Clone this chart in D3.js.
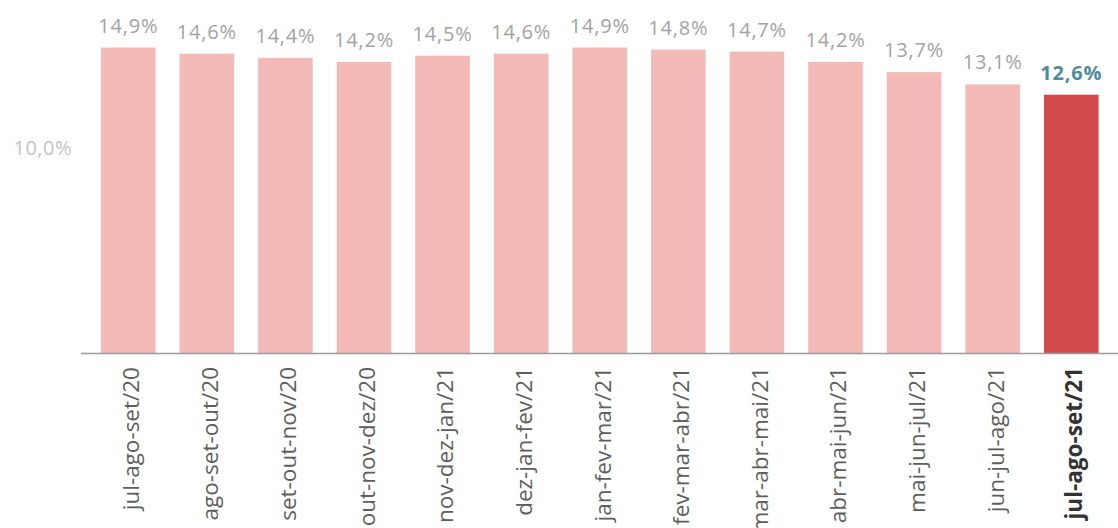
<!DOCTYPE html>
<html>
<head>
<meta charset="utf-8">
<title>Taxa de desocupação</title>
<script src="https://d3js.org/d3.v7.min.js"></script>
<style>
body { margin: 0; padding: 0; background: #fff; }
svg { display: block; font-family: "Open Sans", sans-serif; }
</style>
</head>
<body>
<svg width="1118" height="528"></svg>
<script>
// data
var periods = ['jul-ago-set/20','ago-set-out/20','set-out-nov/20','out-nov-dez/20',
  'nov-dez-jan/21','dez-jan-fev/21','jan-fev-mar/21','fev-mar-abr/21',
  'mar-abr-mai/21','abr-mai-jun/21','mai-jun-jul/21','jun-jul-ago/21','jul-ago-set/21'];
var rates = [14.9, 14.6, 14.4, 14.2, 14.5, 14.6, 14.9, 14.8, 14.7, 14.2, 13.7, 13.1, 12.6];
var yTicks = [10];

var margin = {top: 0, right: 0, bottom: 175, left: 81},
    width = 1118 - margin.left - margin.right,
    height = 528 - margin.top - margin.bottom;

var svg = d3.select("svg")
  .append("g")
  .attr("transform", "translate(" + margin.left + "," + margin.top + ")");

var x = d3.scaleBand()
  .domain(periods)
  .range([-0.5, 1038])
  .paddingInner(0.305)
  .paddingOuter(0.26);

var y = d3.scaleLinear().domain([0, 10]).range([height, height - 205]);

var last = periods.length - 1;
var fmt = function(v) { return v.toFixed(1).replace(".", ",") + "%"; };

// y tick label
svg.selectAll(".ytick")
  .data(yTicks)
  .enter().append("text")
  .attr("class", "ytick")
  .attr("x", -9)
  .attr("y", function(d) { return y(d); })
  .attr("dy", "0.35em")
  .attr("text-anchor", "end")
  .attr("fill", "#c4c4c4")
  .attr("font-size", "20px")
  .attr("letter-spacing", "0.5px")
  .text(function(d) { return fmt(d); });

// bars
svg.selectAll(".bar")
  .data(rates)
  .enter().append("rect")
  .attr("class", "bar")
  .attr("x", function(d, i) { return x(periods[i]); })
  .attr("y", function(d) { return y(d); })
  .attr("width", x.bandwidth())
  .attr("height", function(d) { return height - y(d); })
  .attr("fill", function(d, i) { return i === last ? "#d34a4c" : "#f3bab7"; });

// value labels
svg.selectAll(".val")
  .data(rates)
  .enter().append("text")
  .attr("class", "val")
  .attr("x", function(d, i) { return x(periods[i]) + x.bandwidth() / 2; })
  .attr("y", function(d) { return y(d) - 15; })
  .attr("text-anchor", "middle")
  .attr("font-size", "20px")
  .attr("letter-spacing", "0.8px")
  .attr("font-weight", function(d, i) { return i === last ? "bold" : "normal"; })
  .attr("fill", function(d, i) { return i === last ? "#4f8c9b" : "#a3a3a3"; })
  .text(function(d) { return fmt(d); });

// baseline
svg.append("line")
  .attr("x1", 0).attr("x2", width)
  .attr("y1", height + 0.5).attr("y2", height + 0.5)
  .attr("stroke", "#9a9a9a")
  .attr("stroke-width", 1.5);

// x labels
var xAxis = svg.append("g")
  .attr("transform", "translate(0," + height + ")")
  .call(d3.axisBottom(x).tickSize(0).tickPadding(0));
xAxis.select(".domain").remove();
xAxis.selectAll(".tick text")
  .attr("transform", "rotate(-90)")
  .attr("x", -14)
  .attr("y", 3)
  .attr("dy", "0.35em")
  .attr("text-anchor", "end")
  .attr("font-family", "'Open Sans', sans-serif")
  .attr("font-size", "22.5px")
  .attr("fill", function(d, i) { return i === last ? "#333" : "#5e5e5e"; })
  .attr("font-weight", function(d, i) { return i === last ? "bold" : "normal"; });
</script>
</body>
</html>
